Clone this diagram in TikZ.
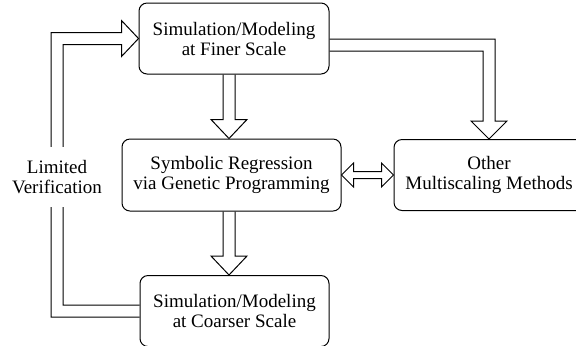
\documentclass[tikz,border=0pt]{standalone}
\usepackage{fontspec}
\setmainfont{Liberation Serif}
\usetikzlibrary{calc}
\def\hollowdown#1#2{\draw[hollow] let \p1=(#1), \p2=(#2) in (\x1-3pt,\y1) -- (\x1-3pt,\y2+9.5pt) -- (\x1-9pt,\y2+9.5pt) -- (\x1,\y2) -- (\x1+9pt,\y2+9.5pt) -- (\x1+3pt,\y2+9.5pt) -- (\x1+3pt,\y1);}
\def\hollowboth#1#2{\draw[hollow] let \p1=(#1), \p2=(#2) in (\x1,\y1) -- (\x1+6pt,\y1+6pt) -- (\x1+6pt,\y1+1.75pt) -- (\x2-6pt,\y1+1.75pt) -- (\x2-6pt,\y1+6pt) -- (\x2,\y1) -- (\x2-6pt,\y1-6pt) -- (\x2-6pt,\y1-1.75pt) -- (\x1+6pt,\y1-1.75pt) -- (\x1+6pt,\y1-6pt) -- cycle;}

\begin{document}
\begin{tikzpicture}[x=0.5pt, y=0.5pt,
	block/.style={draw, line width=0.5pt, rounded corners=4pt, align=center, font=\fontsize{9.5}{10}\selectfont},
	hollow/.style={draw, line width=0.5pt, line join=miter}]
			%%%%% START %%%%%
			
			\useasboundingbox (0, 0) rectangle (576, -345);
			\clip (0, 0) rectangle (576, -345);
			
			\node[block, minimum width=95pt, minimum height=35.5pt] (fine) at (234, -38.5) {Simulation/Modeling\\at Finer Scale};
			\node[block, minimum width=109.5pt, minimum height=36pt] (symreg) at (231.5, -175) {Symbolic Regression\\via Genetic Programming};
			\node[block, minimum width=95pt, minimum height=35.5pt] (other) at (489, -175) {Other\\Multiscaling Methods};
			\node[block, minimum width=94.5pt, minimum height=35.5pt] (coarse) at (234.5, -311) {Simulation/Modeling\\at Coarser Scale};
			
			\hollowdown{$(fine.south)+(-5,0)$}{symreg.north}
			\hollowdown{$(symreg.south)+(-2.5,0)$}{coarse.north}
			\hollowboth{symreg.east}{other.west}
			
			\draw[hollow] let \p1=($(fine.east)+(0,-6.5)$), \p2=(other.north) in (\x1,\y1+3pt) -- (\x2+3pt,\y1+3pt) -- (\x2+3pt,\y2+9pt) -- (\x2+9pt,\y2+9pt) -- (\x2,\y2) -- (\x2-9pt,\y2+9pt) -- (\x2-3pt,\y2+9pt) -- (\x2-3pt,\y1-3pt) -- (\x1,\y1-3pt);
			
			\coordinate (bend) at (57, -177);
			\draw[hollow] let \p1=(coarse.west), \p2=(fine.west), \p3=(bend) in (\x1,\y1-3pt) -- (\x3-3pt,\y1-3pt) -- (\x3-3pt,\y2+3pt) -- (\x2-8.5pt,\y2+3pt) -- (\x2-8.5pt,\y2+9pt) -- (\x2,\y2) -- (\x2-8.5pt,\y2-9pt) -- (\x2-8.5pt,\y2-3pt) -- (\x3+3pt,\y2-3pt) -- (\x3+3pt,\y1+3pt) -- (\x1,\y1+3pt);
			\node[fill=white, align=center, inner ysep=6.5pt, font=\fontsize{9.5}{10}\selectfont] (verif) at (bend) {Limited\\Verification};
			
			%%%%% END %%%%%
\end{tikzpicture}
\end{document}
